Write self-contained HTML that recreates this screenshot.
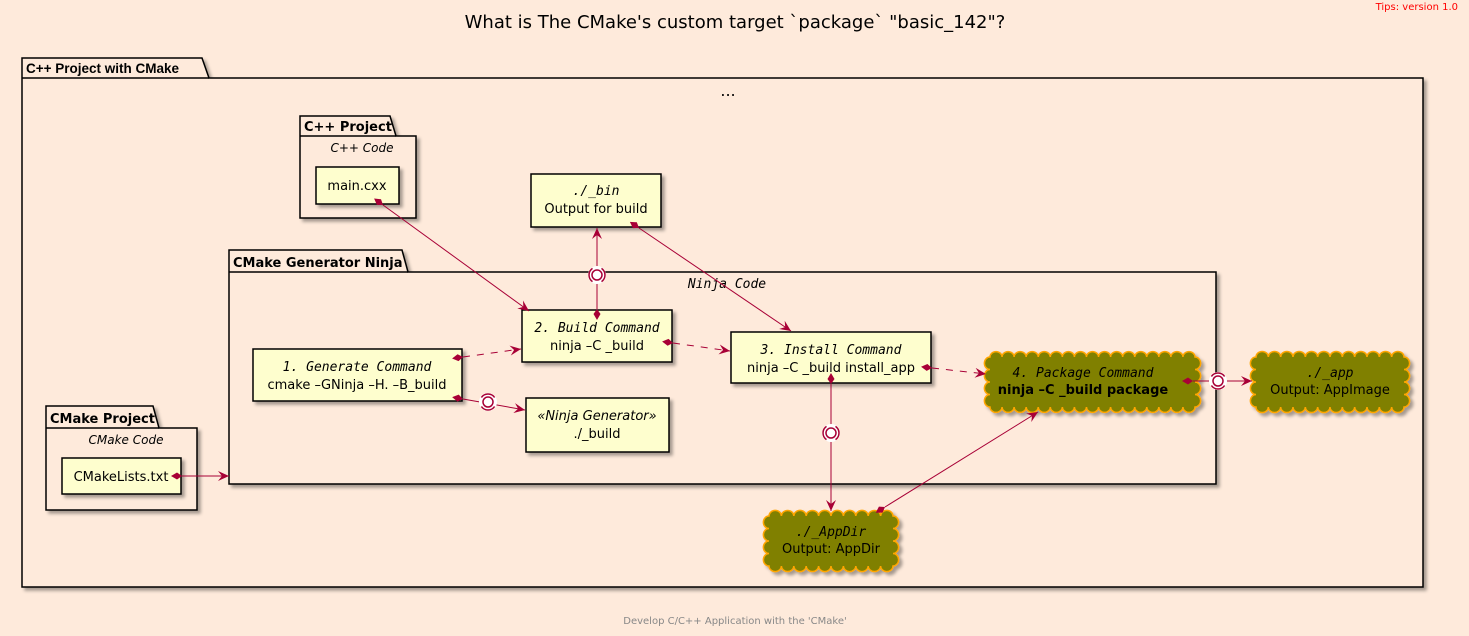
<!DOCTYPE html>
<html><head><meta charset="utf-8"><style>
html,body{margin:0;padding:0;background:#FEEADB;}
svg{display:block;}
text{font-family:"DejaVu Sans","Liberation Sans",sans-serif;}
.m{font-family:"DejaVu Sans Mono","Liberation Mono",monospace;font-style:italic;}
.b{font-weight:bold;}
.box{fill:#FEFECE;stroke:#000;stroke-width:1.5;filter:url(#sh);}
.pk{fill:none;stroke:#000;stroke-width:1.5;}
.ln{stroke:#A80036;stroke-width:1;fill:none;}
.d{stroke-dasharray:7,7;}
</style></head><body>
<svg id="s" width="1469" height="636" viewBox="0 0 1469 636" xmlns="http://www.w3.org/2000/svg">
<defs>
<filter id="sh" x="-10%" y="-10%" width="130%" height="140%"><feDropShadow dx="3" dy="3" stdDeviation="1.5" flood-color="#000" flood-opacity="0.35"/></filter>
<marker id="ar" viewBox="0 0 12 10" refX="11" refY="5" markerWidth="12" markerHeight="10" orient="auto" markerUnits="userSpaceOnUse"><path d="M0,0 L11,5 L0,10 L4,5 Z" fill="#A80036"/></marker>
<marker id="di" viewBox="0 0 14 8" refX="1" refY="4" markerWidth="14" markerHeight="8" orient="auto-start-reverse" markerUnits="userSpaceOnUse"><path d="M1,4 L6,0.5 L12,4 L6,7.5 Z" fill="#A80036"/></marker>
</defs>
<rect width="1469" height="636" fill="#FEEADB"/>
<text x="735" y="28" font-size="18" text-anchor="middle">What is The CMake's custom target `package` "basic_142"?</text>
<text x="1458" y="10" font-size="10" text-anchor="end" fill="#FF0000">Tips: version 1.0</text>
<text x="735" y="624" font-size="10" text-anchor="middle" fill="#888">Develop C/C++ Application with the 'CMake'</text>

<g filter="url(#sh)">
<path class="pk" style="fill:#FEEADB" d="M22,78 L22,58 L202,58 L209,78 L1423,78 L1423,587 L22,587 Z"/>
</g>
<line x1="22" y1="78" x2="209" y2="78" stroke="#000" stroke-width="1.5"/>
<text x="26" y="73" font-size="13.5" class="b" style="font-family:'Liberation Sans',sans-serif">C++ Project with CMake</text>
<text x="728" y="96" font-size="16" text-anchor="middle">...</text>

<g filter="url(#sh)"><path class="pk" style="fill:#FEEADB" d="M300,136 L300,116 L390,116 L396,136 L416,136 L416,218 L300,218 Z"/></g>
<line x1="300" y1="136" x2="396" y2="136" stroke="#000" stroke-width="1.5"/>
<text x="304" y="131" font-size="13" class="b">C++ Project</text>
<text x="362" y="152" font-size="12" font-style="italic" text-anchor="middle">C++ Code</text>
<rect class="box" x="316" y="167" width="83" height="37"/>
<text x="357" y="190" font-size="13" text-anchor="middle">main.cxx</text>

<rect class="box" x="531" y="174" width="130" height="53"/>
<text x="596" y="195" font-size="13" class="m" text-anchor="middle">./_bin</text>
<text x="596" y="213" font-size="13" text-anchor="middle">Output for build</text>

<g filter="url(#sh)"><path class="pk" style="fill:#FEEADB" d="M229,272 L229,250 L402,250 L408,272 L1216,272 L1216,484 L229,484 Z"/></g>
<line x1="229" y1="272" x2="408" y2="272" stroke="#000" stroke-width="1.5"/>
<text x="233" y="267" font-size="13" class="b">CMake Generator Ninja</text>
<text x="727" y="288" font-size="13" class="m" text-anchor="middle">Ninja Code</text>

<rect class="box" x="522" y="310" width="150" height="52"/>
<text x="597" y="332" font-size="13" class="m" text-anchor="middle">2. Build Command</text>
<text x="597" y="350" font-size="13" text-anchor="middle">ninja –C _build</text>

<rect class="box" x="731" y="332" width="200" height="51"/>
<text x="831" y="354" font-size="13" class="m" text-anchor="middle">3. Install Command</text>
<text x="831" y="372" font-size="13" text-anchor="middle">ninja –C _build install_app</text>

<rect class="box" x="253" y="349" width="209" height="52"/>
<text x="357" y="371" font-size="13" class="m" text-anchor="middle">1. Generate Command</text>
<text x="357" y="389" font-size="13" text-anchor="middle">cmake –GNinja –H. –B_build</text>

<rect class="box" x="526" y="398" width="143" height="54"/>
<text x="597" y="420" font-size="13" font-style="italic" text-anchor="middle">«Ninja Generator»</text>
<text x="597" y="438" font-size="13" text-anchor="middle">./_build</text>

<g filter="url(#sh)"><path class="pk" style="fill:#FEEADB" d="M46,428 L46,406 L153,406 L159,428 L197,428 L197,510 L46,510 Z"/></g>
<line x1="46" y1="428" x2="159" y2="428" stroke="#000" stroke-width="1.5"/>
<text x="50" y="423" font-size="13" class="b">CMake Project</text>
<text x="126" y="444" font-size="12" font-style="italic" text-anchor="middle">CMake Code</text>
<rect class="box" x="62" y="458" width="119" height="36"/>
<text x="121" y="481" font-size="13" text-anchor="middle">CMakeLists.txt</text>

<g id="clouds"></g>
<text x="1083" y="377" font-size="13" class="m" text-anchor="middle">4. Package Command</text>
<text x="1083" y="394" font-size="13" class="b" text-anchor="middle">ninja –C _build package</text>
<text x="1330" y="377" font-size="13" class="m" text-anchor="middle">./_app</text>
<text x="1330" y="394" font-size="13" text-anchor="middle">Output: AppImage</text>
<text x="831" y="536" font-size="13" class="m" text-anchor="middle">./_AppDir</text>
<text x="831" y="553" font-size="13" text-anchor="middle">Output: AppDir</text>

<line class="ln" x1="383" y1="205" x2="529" y2="311" marker-start="url(#di)" marker-end="url(#ar)"/>
<line class="ln" x1="597" y1="309" x2="597" y2="228" marker-start="url(#di)" marker-end="url(#ar)"/>
<line class="ln" x1="639" y1="228" x2="791" y2="331" marker-start="url(#di)" marker-end="url(#ar)"/>
<line class="ln d" x1="463" y1="357" x2="521" y2="349" marker-start="url(#di)" marker-end="url(#ar)"/>
<line class="ln" x1="463" y1="399" x2="525" y2="410" marker-start="url(#di)" marker-end="url(#ar)"/>
<line class="ln d" x1="673" y1="343" x2="730" y2="351" marker-start="url(#di)" marker-end="url(#ar)"/>
<line class="ln d" x1="932" y1="368" x2="986" y2="374" marker-start="url(#di)" marker-end="url(#ar)"/>
<line class="ln" x1="831" y1="384" x2="831" y2="511" marker-start="url(#di)" marker-end="url(#ar)"/>
<line class="ln" x1="885" y1="507" x2="1038" y2="412" marker-start="url(#di)" marker-end="url(#ar)"/>
<line class="ln" x1="1193" y1="381" x2="1252" y2="381" marker-start="url(#di)" marker-end="url(#ar)"/>
<line class="ln" x1="182" y1="476" x2="229" y2="476" marker-start="url(#di)" marker-end="url(#ar)"/>
<g id="lol"></g>
</svg>
<script>
var NS="http://www.w3.org/2000/svg";
function cloud(x,y,w,h){
  var r=6,d="";
  var nx=Math.round(w/(2*r)),ny=Math.round(h/(2*r));
  var sx=w/nx,sy=h/ny;
  d="M"+x+","+y;
  for(var i=1;i<=nx;i++)d+=" A"+(sx/2)+","+(sx/2*0.9)+" 0 0 1 "+(x+i*sx)+","+y;
  for(var i=1;i<=ny;i++)d+=" A"+(sy/2*0.9)+","+(sy/2)+" 0 0 1 "+(x+w)+","+(y+i*sy);
  for(var i=nx-1;i>=0;i--)d+=" A"+(sx/2)+","+(sx/2*0.9)+" 0 0 1 "+(x+i*sx)+","+(y+h);
  for(var i=ny-1;i>=0;i--)d+=" A"+(sy/2*0.9)+","+(sy/2)+" 0 0 1 "+x+","+(y+i*sy);
  var p=document.createElementNS(NS,"path");
  p.setAttribute("d",d+"Z");p.setAttribute("fill","#808000");p.setAttribute("stroke","#FFA500");p.setAttribute("stroke-width","1.5");
  p.setAttribute("filter","url(#sh)");
  document.getElementById("clouds").appendChild(p);
}
cloud(990,357,205,50);cloud(1256,357,148,50);cloud(769,516,124,50);
function lol(cx,cy,ang){
  var g=document.getElementById("lol");
  var c=document.createElementNS(NS,"circle");
  c.setAttribute("cx",cx);c.setAttribute("cy",cy);c.setAttribute("r",9);c.setAttribute("fill","#fff");
  g.appendChild(c);
  var c2=document.createElementNS(NS,"circle");
  c2.setAttribute("cx",cx);c2.setAttribute("cy",cy);c2.setAttribute("r",5);c2.setAttribute("fill","#fff");c2.setAttribute("stroke","#A80036");c2.setAttribute("stroke-width","1.5");
  g.appendChild(c2);
  var a=document.createElementNS(NS,"path");
  var r=8,s=0.6;
  function pt(t){return (cx+r*Math.cos(t)).toFixed(1)+","+(cy+r*Math.sin(t)).toFixed(1);}
  var dd="M"+pt(ang+s)+" A8,8 0 0 1 "+pt(ang+Math.PI-s)+" M"+pt(ang+Math.PI+s)+" A8,8 0 0 1 "+pt(ang+2*Math.PI-s);
  a.setAttribute("d",dd);a.setAttribute("fill","none");a.setAttribute("stroke","#A80036");a.setAttribute("stroke-width","1.5");
  g.appendChild(a);
}
lol(597,275,Math.PI/2);lol(488,402,0);lol(831,433,Math.PI/2);lol(1218,381,0);
</script>
</body></html>
